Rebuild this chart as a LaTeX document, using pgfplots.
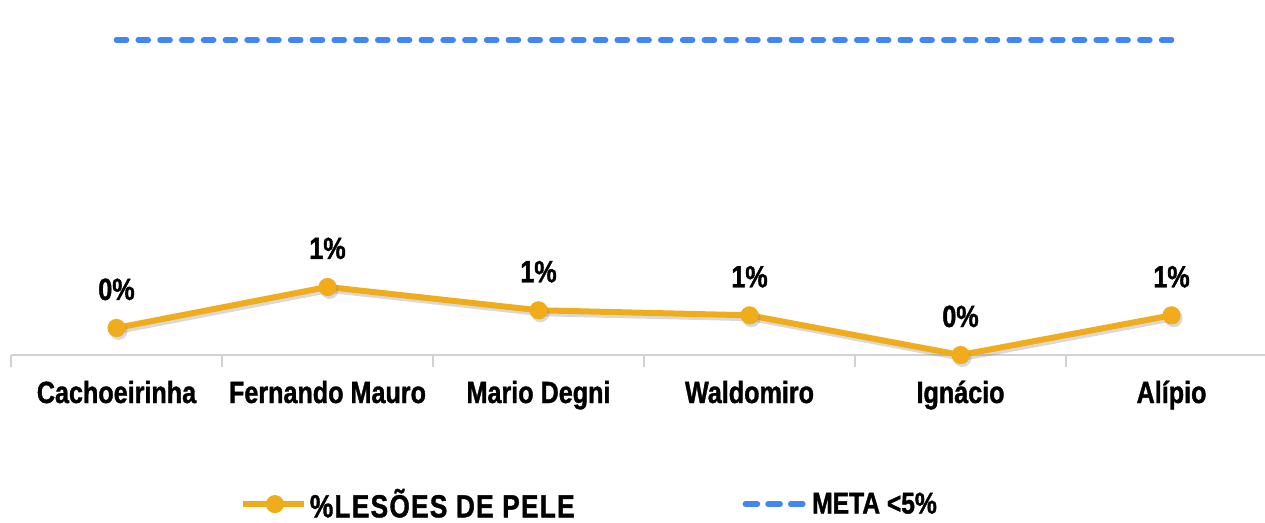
\documentclass[border=0pt]{standalone}
\usepackage{fontspec}
\setmainfont{Liberation Sans}[FakeStretch=0.82, BoldFeatures={FakeBold=1.2}]
\usepackage{pgfplots}
\pgfplotsset{compat=1.18}
\usepackage{pgfplotstable}
\definecolor{lineOr}{RGB}{240,172,26}
\definecolor{metaBl}{RGB}{66,133,244}

\pgfplotstableread{
x y lbl
0 0.43 0
1 1.08 1
2 0.71 1
3 0.63 1
4 0.00 0
5 0.63 1
}\datatbl
\pgfplotstableread{
x y
0 5
1 5
2 5
3 5
4 5
5 5
}\metatbl

\begin{document}
\begin{tikzpicture}
\path[use as bounding box] (0,0) rectangle (948.75pt,391.5pt);
\begin{axis}[
  at={(8.25pt,125.25pt)}, anchor=south west,
  scale only axis, width=940.5pt, height=266.25pt,
  xmin=-0.5, xmax=5.443, ymin=0, ymax=5.635,
  clip=false,
  axis x line*=bottom, axis y line=none,
  x axis line style={draw=gray!35, line width=1pt, -},
  ytick=\empty,
  xtick={0,1,2,3,4,5},
  xticklabels={Cachoeirinha, Fernando Mauro, Mario Degni, Waldomiro, Ignácio, Alípio},
  major tick length=0pt,
  xticklabel style={anchor=base, yshift=-36pt, font=\bfseries\fontsize{23}{27}\selectfont},
  extra x ticks={-0.5,0.5,1.5,2.5,3.5,4.5},
  extra x tick labels={},
  extra x tick style={tick align=outside, major tick length=9pt, tick style={draw=gray!35, line width=0.8pt}},
  legend style={at={(0.4615,-0.42)}, anchor=center, draw=none, fill=none,
    font=\bfseries\fontsize{24}{28}\selectfont, legend cell align=left,
    /tikz/every even column/.append style={column sep=124pt},
    /tikz/every odd column/.append style={column sep=0pt},
    nodes={inner xsep=2pt}},
  legend columns=2,
]
% shadow
\addplot[gray, opacity=0.3, line width=4.5pt, mark=*, mark size=4.5pt, xshift=1.5pt, yshift=-2.2pt, forget plot]
  table[x=x, y=y] {\datatbl};
\addplot[lineOr, line width=4.5pt, mark=*, mark size=4.5pt, mark options={fill=lineOr, draw=lineOr},
  point meta=explicit symbolic,
  nodes near coords={\pgfplotspointmeta\%},
  every node near coord/.append style={anchor=base, yshift=21pt, text=black, font=\bfseries\fontsize{23}{27}\selectfont},
  legend image code/.code={
    \draw[lineOr, line width=4.5pt] (0pt,0pt) -- (46pt,0pt);
    \fill[lineOr] (24pt,0pt) circle (4.5pt);
  }]
  table[x=x, y=y, meta=lbl] {\datatbl};
\addlegendentry{\addfontfeature{LetterSpace=4}\%LESÕES DE PELE}
\addplot[metaBl, line width=4.2pt, line cap=round, dash pattern=on 7.5pt off 8.83pt,
  legend image code/.code={
    \draw[metaBl, line width=4.2pt, line cap=round, dash pattern=on 9pt off 8pt] (2pt,0pt) -- (48pt,0pt);
  }]
  table[x=x, y=y] {\metatbl};
\addlegendentry{\fontsize{22.5}{27}\selectfont META <5\%}
\end{axis}
\end{tikzpicture}
\end{document}
